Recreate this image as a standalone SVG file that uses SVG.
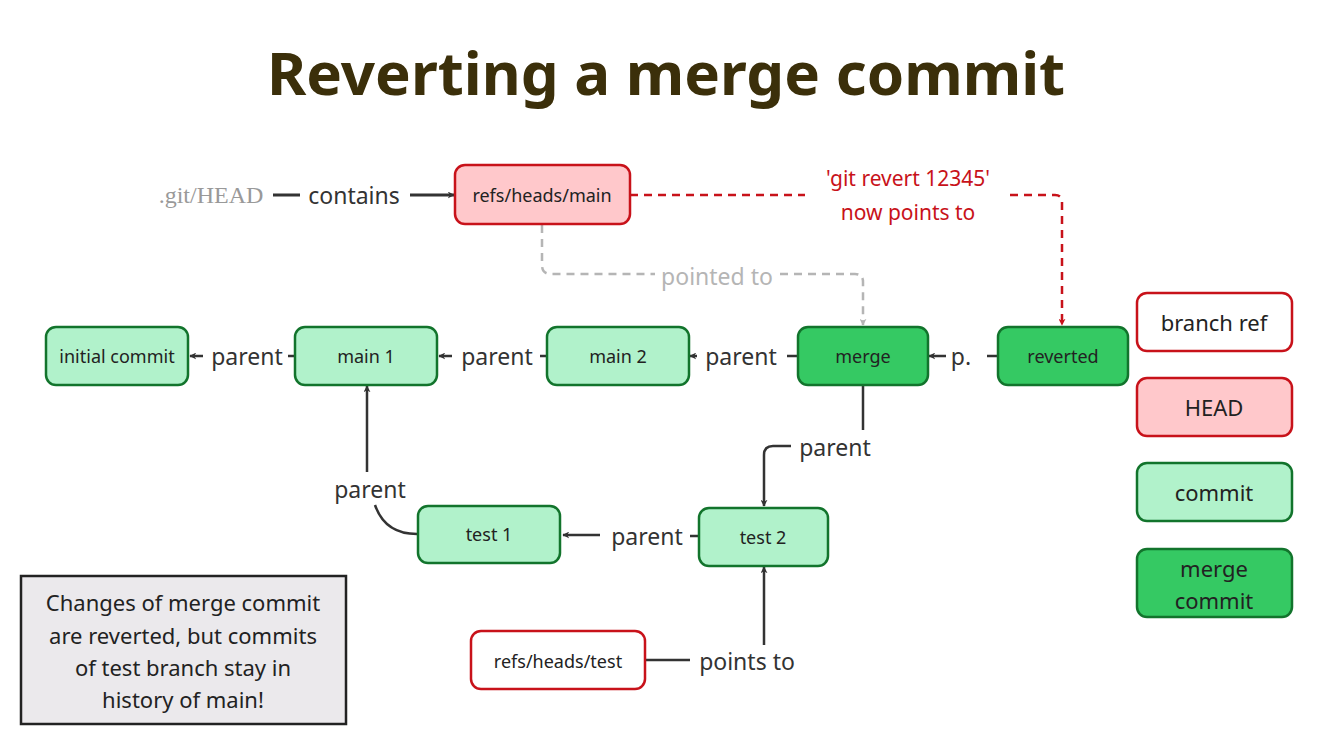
<svg xmlns="http://www.w3.org/2000/svg" width="1333" height="750" viewBox="0 0 1333 750">
<style>
text{font-family:"Noto Sans","Open Sans",sans-serif;fill:#222;}
.n{font-size:18px;text-anchor:middle;dominant-baseline:central}
.l{font-size:23px;text-anchor:middle;dominant-baseline:central;fill:#333}
.c{fill:#b1f2cb;stroke:#12742c;stroke-width:2.5}
.m{fill:#35c963;stroke:#12742c;stroke-width:2.5}
.h{fill:#ffc8cb;stroke:#c8121a;stroke-width:2.5}
.b{fill:#fff;stroke:#c8121a;stroke-width:2.5}
.e{fill:none;stroke:#333;stroke-width:2.5}
</style>
<defs>
<marker id="a" viewBox="0 0 10 10" refX="9" refY="5" markerWidth="7" markerHeight="7" orient="auto-start-reverse" markerUnits="userSpaceOnUse"><path d="M0,0L10,5L0,10L3,5z" fill="#333"/></marker>
<marker id="ar" viewBox="0 0 10 10" refX="9" refY="5" markerWidth="7" markerHeight="7" orient="auto" markerUnits="userSpaceOnUse"><path d="M0,0L10,5L0,10L3,5z" fill="#c8121a"/></marker>
<marker id="ag" viewBox="0 0 10 10" refX="9" refY="5" markerWidth="7" markerHeight="7" orient="auto" markerUnits="userSpaceOnUse"><path d="M0,0L10,5L0,10L3,5z" fill="#b5b5b5"/></marker>
</defs>
<text x="666" y="72" style="font-size:60px;font-weight:bold;fill:#3b2f0a;text-anchor:middle;dominant-baseline:central">Reverting a merge commit</text>
<g id="connectors">
<path class="e" d="M273 195H300M410 195H454" marker-end="url(#a)" style="stroke-width:3;marker-end:url(#a)"/>
<path d="M630 195H805M1010 195H1055Q1062 195 1062 202V325" fill="none" stroke="#c8121a" stroke-width="2.5" stroke-dasharray="8,6" marker-end="url(#ar)"/>
<path d="M542 225V265Q542 274 551 274H655M780 274H855Q863 274 863 282V325" fill="none" stroke="#b5b5b5" stroke-width="2.5" stroke-dasharray="8,6" marker-end="url(#ag)"/>
<path class="e" d="M294 356H288M203 356H190" marker-end="url(#a)"/>
<path class="e" d="M546 356H540M452 356H439" marker-end="url(#a)"/>
<path class="e" d="M797 356H787M697 356H690" marker-end="url(#a)"/>
<path class="e" d="M997 356H987M946 356H929" marker-end="url(#a)"/>
<path class="e" d="M863 386V430"/>
<path class="e" d="M791 446H773Q764 446 764 455V506" marker-end="url(#a)"/>
<path class="e" d="M698 536H690M600 535H563" marker-end="url(#a)"/>
<path class="e" d="M417 534Q385 534 375 505M367 472V386" marker-end="url(#a)"/>
<path class="e" d="M646 660H690M764 645V567" marker-end="url(#a)"/>
<text x="211" y="195" style="font-family:'Liberation Serif',serif;font-size:24px;fill:#999;text-anchor:middle;dominant-baseline:central">.git/HEAD</text>
<text class="l" x="354" y="195">contains</text>
<text x="908" y="178" class="l" style="fill:#c8121a;font-size:21px">'git revert 12345'</text>
<text x="908" y="212" class="l" style="fill:#c8121a;font-size:21px">now points to</text>
<text class="l" x="717" y="276" style="fill:#b5b5b5">pointed to</text>
<text class="l" x="247" y="356">parent</text>
<text class="l" x="497" y="356">parent</text>
<text class="l" x="741" y="356">parent</text>
<text class="l" x="961" y="356">p.</text>
<text class="l" x="835" y="447">parent</text>
<text class="l" x="647" y="536">parent</text>
<text class="l" x="370" y="489">parent</text>
<text class="l" x="747" y="661">points to</text>
</g>
<g id="refs-heads-main"><rect class="h" x="455" y="165" width="175" height="59" rx="10"/><text class="n" x="542" y="195">refs/heads/main</text></g>
<g id="initial-commit"><rect class="c" x="46" y="327" width="142" height="58" rx="10"/><text class="n" x="117" y="356">initial commit</text></g>
<g id="main1"><rect class="c" x="295" y="327" width="142" height="58" rx="10"/><text class="n" x="366" y="356">main 1</text></g>
<g id="main2"><rect class="c" x="547" y="327" width="142" height="58" rx="10"/><text class="n" x="618" y="356">main 2</text></g>
<g id="merge"><rect class="m" x="798" y="327" width="130" height="58" rx="10"/><text class="n" x="863" y="356">merge</text></g>
<g id="reverted"><rect class="m" x="998" y="327" width="130" height="58" rx="10"/><text class="n" x="1063" y="356">reverted</text></g>
<g id="test1"><rect class="c" x="418" y="506" width="142" height="57" rx="10"/><text class="n" x="489" y="534">test 1</text></g>
<g id="test2"><rect class="c" x="699" y="508" width="129" height="58" rx="10"/><text class="n" x="763" y="537">test 2</text></g>
<g id="refs-heads-test"><rect class="b" x="471" y="631" width="174" height="58" rx="10"/><text class="n" x="558" y="661">refs/heads/test</text></g>
<g id="legend-branch"><rect class="b" x="1137" y="293" width="155" height="58" rx="10"/><text class="n" x="1214" y="322" style="font-size:22px">branch ref</text></g>
<g id="legend-head"><rect class="h" x="1137" y="378" width="155" height="58" rx="10"/><text class="n" x="1214" y="407" style="font-size:22px">HEAD</text></g>
<g id="legend-commit"><rect class="c" x="1137" y="463" width="155" height="58" rx="10"/><text class="n" x="1214" y="492" style="font-size:22px">commit</text></g>
<g id="legend-merge"><rect class="m" x="1137" y="549" width="155" height="68" rx="10"/><text class="n" x="1214" y="568" style="font-size:22px">merge</text><text class="n" x="1214" y="600" style="font-size:22px">commit</text></g>
<g id="note"><rect x="21" y="576" width="325" height="148" fill="#ebe9ec" stroke="#222" stroke-width="2.5"/>
<text class="n" x="183" y="602" style="font-size:22px">Changes of merge commit</text>
<text class="n" x="183" y="635" style="font-size:22px">are reverted, but commits</text>
<text class="n" x="183" y="667" style="font-size:22px">of test branch stay in</text>
<text class="n" x="183" y="699" style="font-size:22px">history of main!</text></g>
</svg>
